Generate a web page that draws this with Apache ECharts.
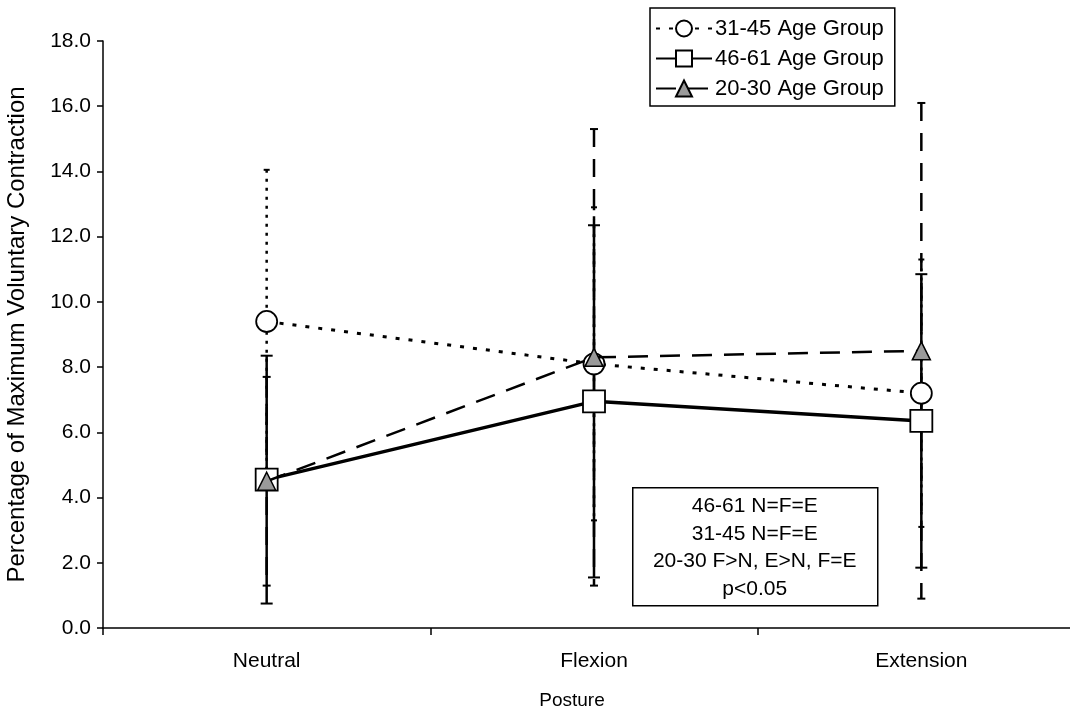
<!DOCTYPE html>
<html>
<head>
<meta charset="utf-8">
<script src="https://cdn.jsdelivr.net/npm/echarts@6/dist/echarts.min.js"></script>
<style>html,body{margin:0;padding:0;background:#fff}#c{width:1070px;height:710px}</style>
</head>
<body>
<div id="c"></div>
<script>
const categories = ['Neutral', 'Flexion', 'Extension'];
const yTicks = ['0.0','2.0','4.0','6.0','8.0','10.0','12.0','14.0','16.0','18.0'];
const names = ['31-45 Age Group', '46-61 Age Group', '20-30 Age Group'];
const mean3145 = [9.4, 8.1, 7.2];
const sd3145 = [4.65, 4.8, 4.1];
const mean4661 = [4.55, 6.95, 6.35];
const sd4661 = [3.8, 5.4, 4.5];
const mean2030 = [4.5, 8.3, 8.5];
const sd2030 = [3.2, 7.0, 7.6];
const noteLines = ['46-61 N=F=E', '31-45 N=F=E', '20-30 F>N, E>N, F=E', 'p<0.05'];

const FONT = '"Liberation Sans", Arial, Helvetica, sans-serif';
const chart = echarts.init(document.getElementById('c'), null, {renderer: 'canvas'});

function errSeries(means, sds, dash, capW, z) {
  return {
    type: 'custom',
    z: z,
    silent: true,
    data: means.map((m, i) => [i, m, sds[i]]),
    encode: {x: 0, y: 1},
    renderItem: function (params, api) {
      const i = api.value(0), m = api.value(1), s = api.value(2);
      const top = api.coord([i, m + s]);
      const bot = api.coord([i, m - s]);
      const x = top[0];
      return {
        type: 'group',
        children: [
          {type: 'line', shape: {x1: x, y1: top[1], x2: x, y2: bot[1]}, style: {stroke: '#000', lineWidth: 2.5, lineDash: dash}},
          {type: 'line', shape: {x1: x - capW, y1: top[1], x2: x + capW, y2: top[1]}, style: {stroke: '#000', lineWidth: 2}},
          {type: 'line', shape: {x1: x - capW, y1: bot[1], x2: x + capW, y2: bot[1]}, style: {stroke: '#000', lineWidth: 2}}
        ]
      };
    }
  };
}

const option = {
  backgroundColor: '#fff',
  animation: false,
  textStyle: {fontFamily: FONT},
  grid: {left: 103, right: -15, top: 41, bottom: 82, containLabel: false, outerBoundsMode: 'none'},
  legend: {
    data: names,
    orient: 'vertical',
    left: 650, top: 8,
    itemWidth: 56, itemHeight: 20, itemGap: 5,
    padding: [8, 11, 5, 5],
    backgroundColor: '#fff',
    borderColor: '#000', borderWidth: 1.5, borderRadius: 0,
    textStyle: {fontSize: 22, color: '#000', fontFamily: FONT, lineHeight: 25, padding: [0, 0, 0, -2]}
  },
  xAxis: {
    type: 'category',
    data: categories,
    boundaryGap: true,
    name: 'Posture',
    nameLocation: 'middle',
    nameGap: 63,
    nameTextStyle: {fontSize: 19, color: '#000', fontFamily: FONT, padding: [0, 44, 0, 0]},
    axisLine: {lineStyle: {color: '#000', width: 1.5}},
    axisTick: {show: true, inside: false, length: 7, lineStyle: {color: '#000', width: 1.5}},
    axisLabel: {fontSize: 21, color: '#000', margin: 23, fontFamily: FONT},
    splitLine: {show: false}
  },
  yAxis: {
    type: 'value',
    min: 0, max: 18, interval: 2,
    name: 'Percentage of Maximum Voluntary Contraction',
    nameLocation: 'middle',
    nameRotate: 90,
    nameGap: 74,
    nameTextStyle: {fontSize: 24, color: '#000', fontFamily: FONT},
    axisLine: {show: true, lineStyle: {color: '#000', width: 1.5}},
    axisTick: {show: true, length: 6, lineStyle: {color: '#000', width: 1.5}},
    axisLabel: {fontSize: 21, color: '#000', margin: 12, fontFamily: FONT,
      formatter: function (v) { return yTicks[Math.round(v / 2)]; }},
    splitLine: {show: false}
  },
  series: [
    errSeries(mean3145, sd3145, [3, 6], 3, 1),
    errSeries(mean4661, sd4661, null, 6, 2),
    errSeries(mean2030, sd2030, [18, 12], 4, 2),
    {
      name: names[0], type: 'line', data: mean3145, z: 5,
      symbol: 'circle', symbolSize: 21,
      lineStyle: {color: '#000', width: 3, type: [4, 9]},
      itemStyle: {color: '#fff', borderColor: '#000', borderWidth: 1.8}
    },
    {
      name: names[1], type: 'line', data: mean4661, z: 6,
      symbol: 'rect', symbolSize: 22,
      lineStyle: {color: '#000', width: 3.5, type: 'solid'},
      itemStyle: {color: '#fff', borderColor: '#000', borderWidth: 1.8}
    },
    {
      name: names[2], type: 'line', data: mean2030, z: 7,
      symbol: 'triangle', symbolSize: 18,
      lineStyle: {color: '#000', width: 2.5, type: [20, 12]},
      itemStyle: {color: '#9a9a9a', borderColor: '#000', borderWidth: 1.5}
    }
  ],
  graphic: [
    {
      type: 'group', left: 632, top: 487, z: 100,
      children: [
        {type: 'rect', shape: {x: 0, y: 0, width: 245, height: 118}, style: {fill: '#fff', stroke: '#000', lineWidth: 1.5}},
        {type: 'text', x: 122, y: 60, style: {
          text: noteLines.join('\n'), font: '21px ' + FONT, fill: '#000',
          align: 'center', verticalAlign: 'middle', lineHeight: 27.5}}
      ]
    }
  ]
};
chart.setOption(option);
</script>
</body>
</html>
